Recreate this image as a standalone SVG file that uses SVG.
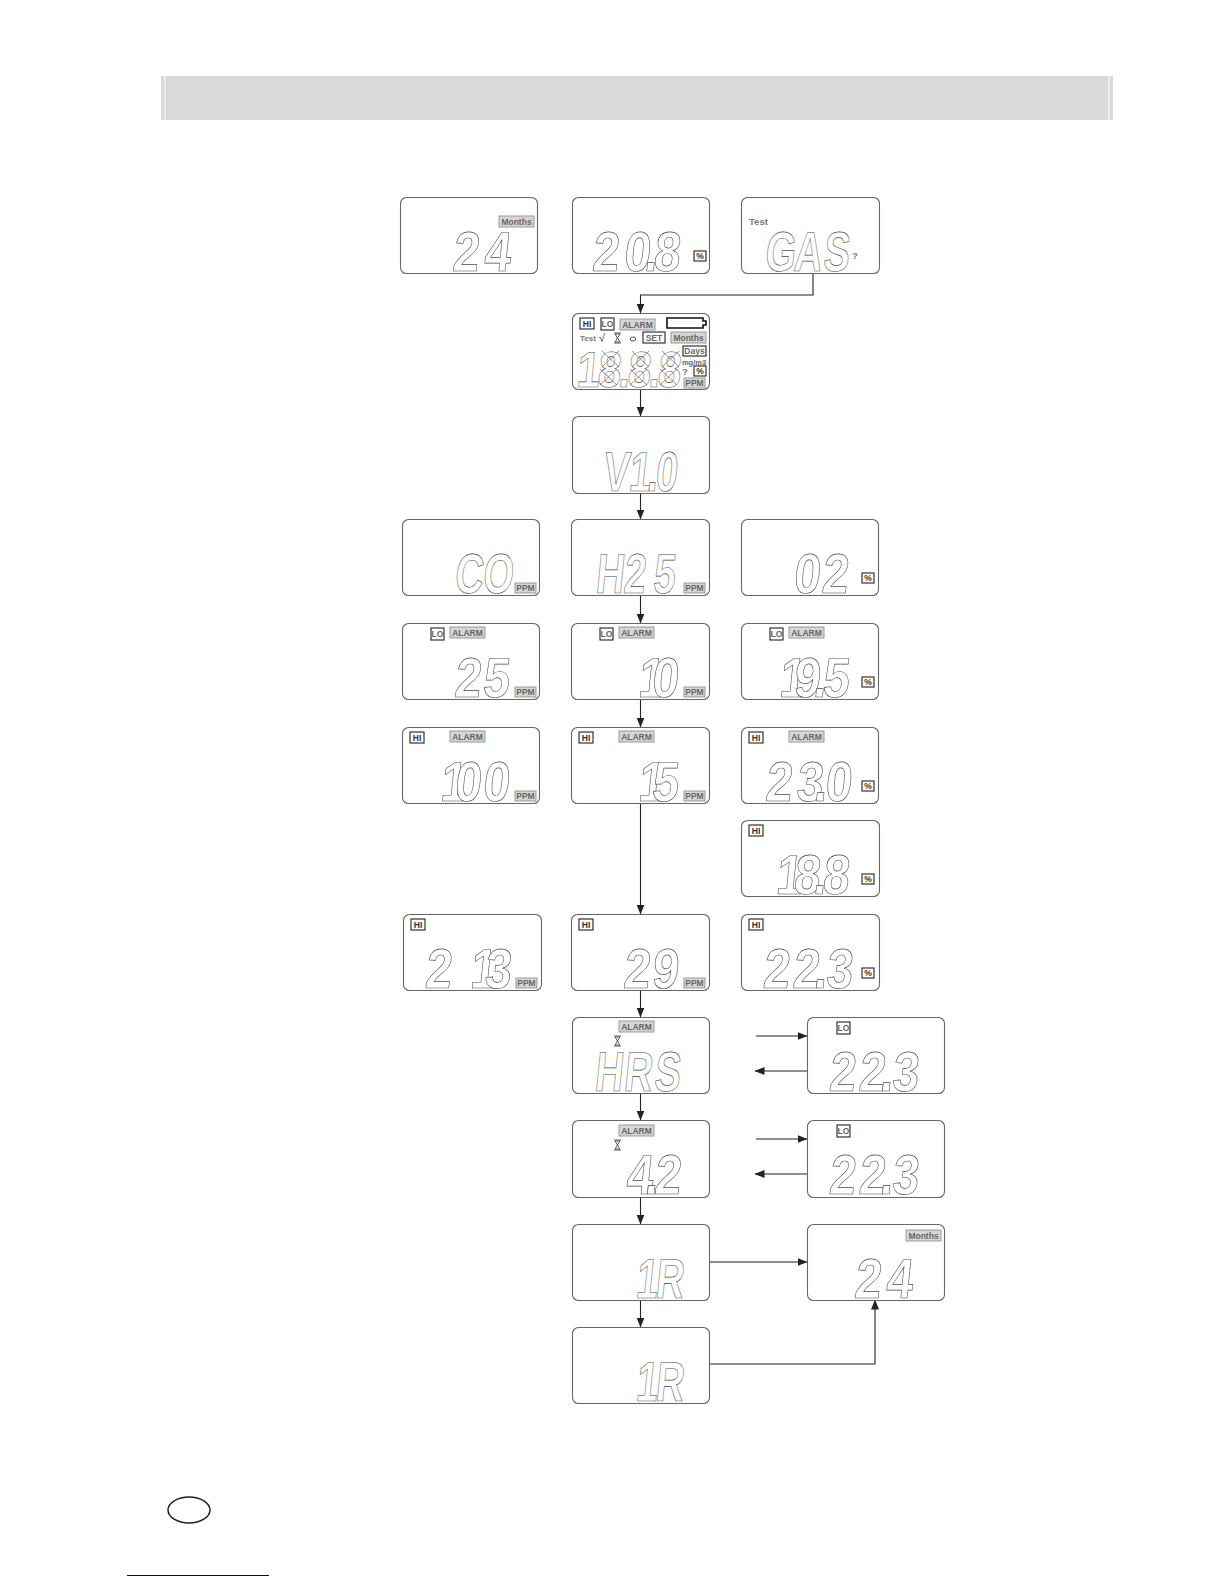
<svg xmlns="http://www.w3.org/2000/svg" xmlns:xlink="http://www.w3.org/1999/xlink" width="1224" height="1584" viewBox="0 0 1224 1584">
<style>
.p{fill:#fff;stroke:#666;stroke-width:1.1;transform:translate(.5px,.5px)}
.d{font-family:"Liberation Sans",sans-serif;font-weight:700;font-size:56px;fill:#fff;stroke:#4a4a4a;stroke-width:.65;text-rendering:geometricPrecision}
.c{fill:#d6d6d6;stroke:#999;stroke-width:1}
.b{fill:#fff;stroke:#222;stroke-width:1.1}
.t{font-family:"Liberation Sans",sans-serif;font-weight:700;font-size:8.5px;fill:#666;text-anchor:middle}
.l{font-family:"Liberation Sans",sans-serif;font-weight:700;font-size:9.5px;fill:#777}
.ah{fill:#222}
.g{fill:#fff;stroke:#555;stroke-width:1}
.s{stroke:#666;stroke-width:.7}
</style>
<defs>
<marker id="a" markerWidth="10" markerHeight="10" refX="9.5" refY="4" orient="auto" markerUnits="userSpaceOnUse"><path d="M0,0L10,4L0,8Z" class="ah"/></marker>
<g id="ppm"><rect x="0" y="0" width="21" height="10" class="c"/><text x="10.5" y="8" class="t">PPM</text></g>
<g id="pct"><rect x="0" y="0" width="12" height="10" class="b"/><text x="6" y="8" class="t" style="fill:#333">%</text></g>
<g id="lo"><rect x="0" y="0" width="13" height="12" class="b"/><text x="6.5" y="9" class="t">LO</text></g>
<g id="hi"><rect x="0" y="0" width="14" height="11" class="b"/><text x="7" y="9" class="t" style="fill:#333">HI</text></g>
<g id="alarm"><rect x="0" y="0" width="35" height="11" class="c"/><text x="17.5" y="9" class="t">ALARM</text></g>
<g id="months"><rect x="0" y="0" width="35" height="11" class="c"/><text x="17.5" y="9" class="t">Months</text></g>
<path id="hg" d="M0,0H7M0,10H7M1,1L6,9H1L6,1Z" fill="#fff" stroke="#555" stroke-width="1"/>
</defs>
<rect id="bar" x="161" y="76" width="952" height="44" fill="#d9d9d9"/>
<rect x="164" y="76" width="2" height="44" fill="#ececec"/>
<rect x="1108" y="76" width="2" height="44" fill="#ececec"/>

<g id="connectors" fill="none" stroke="#222" stroke-width="1.1">
<path d="M813,273V295H640.5V313" marker-end="url(#a)"/>
<path d="M640.5,389V416" marker-end="url(#a)"/>
<path d="M640.5,493V519" marker-end="url(#a)"/>
<path d="M640.5,595V623" marker-end="url(#a)"/>
<path d="M640.5,699V727" marker-end="url(#a)"/>
<path d="M640.5,803V914" marker-end="url(#a)"/>
<path d="M640.5,990V1017" marker-end="url(#a)"/>
<path d="M640.5,1093V1120" marker-end="url(#a)"/>
<path d="M640.5,1197V1224" marker-end="url(#a)"/>
<path d="M640.5,1300V1327" marker-end="url(#a)"/>
<path d="M756,1036H807" marker-end="url(#a)"/>
<path d="M807,1071H755" marker-end="url(#a)"/>
<path d="M756,1139H807" marker-end="url(#a)"/>
<path d="M807,1174H755" marker-end="url(#a)"/>
<path d="M709,1262H807" marker-end="url(#a)"/>
<path d="M709,1364H875V1300" marker-end="url(#a)"/>
</g>

<g id="n-months24" transform="translate(400,197)"><rect width="137" height="76" rx="6" class="p"/><use xlink:href="#months" x="99" y="19"/><text class="d" transform="matrix(.85 0 -.1 1 0 74)" x="61 98">24</text></g>
<g id="n-208" transform="translate(572,197)"><rect width="137" height="76" rx="6" class="p"/><use xlink:href="#pct" x="122" y="54"/><text class="d" transform="matrix(.85 0 -.1 1 0 74)" x="23 60 84 95">20.8</text></g>
<g id="n-gas" transform="translate(741,197)"><rect width="138" height="76" rx="6" class="p"/><text class="l" x="8" y="28">Test</text><text class="l" x="111" y="62">?</text><text class="d" transform="matrix(.7 0 -.1 1 0 74)" x="33 74 116">GAS</text></g>

<g id="n-full" transform="translate(572,313)"><rect width="137" height="76" rx="6" class="p"/>
<use xlink:href="#hi" x="8" y="5"/><use xlink:href="#lo" x="29" y="5"/><use xlink:href="#alarm" x="48" y="6"/>
<path d="M95,5H131V8H134V12H131V15H95Z" fill="#fff" stroke="#111" stroke-width="1.6"/>
<text class="l" x="8" y="28" style="font-size:8px">Test</text><text class="l" x="27" y="29" style="font-size:11px">√</text><use xlink:href="#hg" x="42" y="20"/><ellipse cx="61" cy="26" rx="2.8" ry="2" class="g"/>
<rect x="71" y="19" width="22" height="11" class="b"/><text x="82" y="28" class="t">SET</text>
<use xlink:href="#months" x="99" y="19"/>
<rect x="111" y="33" width="23" height="10" class="b"/><text x="122.500" y="41" class="t">Days</text>
<text x="122" y="52" class="t" style="font-size:7.500px">mg/m3</text><text class="l" x="110" y="62">?</text><use xlink:href="#pct" x="122" y="53"/><use xlink:href="#ppm" x="112" y="65"/>
<text class="d" transform="matrix(.75 0 -.08 .9 0 74)" x="5 33 61 73 101 113" style="stroke-width:.6">18.8.8</text>
<path class="s" fill="none" d="M30,38L47,54M47,38L30,54M28,56L45,72M45,56L28,72M60,38L77,54M77,38L60,54M58,56L75,72M75,56L58,72M90,38L107,54M107,38L90,54M88,56L105,72M105,56L88,72"/>
</g>

<g id="n-v10" transform="translate(572,416)"><rect width="137" height="77" rx="6" class="p"/><text class="d" transform="matrix(.7 0 -.1 1 0 75)" x="43 80 106 118">V1.0</text></g>

<g id="n-co" transform="translate(402,519)"><rect width="137" height="76" rx="6" class="p"/><use xlink:href="#ppm" x="113" y="64"/><text class="d" transform="matrix(.7 0 -.1 1 0 74)" x="74 114">CO</text></g>
<g id="n-h25" transform="translate(571,519)"><rect width="138" height="76" rx="6" class="p"/><use xlink:href="#ppm" x="113" y="64"/><text class="d" transform="matrix(.7 0 -.1 1 0 74)" x="34 74 116">H25</text></g>
<g id="n-02" transform="translate(741,519)"><rect width="137" height="76" rx="6" class="p"/><use xlink:href="#pct" x="121" y="54"/><text class="d" transform="matrix(.85 0 -.1 1 0 74)" x="61 94">02</text></g>

<g id="n-lo25" transform="translate(402,623)"><rect width="137" height="76" rx="6" class="p"/><use xlink:href="#lo" x="29" y="5"/><use xlink:href="#alarm" x="48" y="4"/><use xlink:href="#ppm" x="113" y="64"/><text class="d" transform="matrix(.85 0 -.1 1 0 74)" x="61 94">25</text></g>
<g id="n-lo10" transform="translate(571,623)"><rect width="138" height="76" rx="6" class="p"/><use xlink:href="#lo" x="29" y="5"/><use xlink:href="#alarm" x="48" y="4"/><use xlink:href="#ppm" x="113" y="64"/><text class="d" transform="matrix(.85 0 -.1 1 0 74)" x="78 94">10</text></g>
<g id="n-lo195" transform="translate(741,623)"><rect width="137" height="76" rx="6" class="p"/><use xlink:href="#lo" x="29" y="5"/><use xlink:href="#alarm" x="48" y="4"/><use xlink:href="#pct" x="121" y="54"/><text class="d" transform="matrix(.85 0 -.1 1 0 74)" x="44 61 84 95">19.5</text></g>

<g id="n-hi100" transform="translate(402,727)"><rect width="137" height="76" rx="6" class="p"/><use xlink:href="#hi" x="8" y="5"/><use xlink:href="#alarm" x="48" y="4"/><use xlink:href="#ppm" x="113" y="64"/><text class="d" transform="matrix(.85 0 -.1 1 0 74)" x="44 61 94">100</text></g>
<g id="n-hi15" transform="translate(571,727)"><rect width="138" height="76" rx="6" class="p"/><use xlink:href="#hi" x="8" y="5"/><use xlink:href="#alarm" x="48" y="4"/><use xlink:href="#ppm" x="113" y="64"/><text class="d" transform="matrix(.85 0 -.1 1 0 74)" x="78 94">15</text></g>
<g id="n-hi230" transform="translate(741,727)"><rect width="137" height="76" rx="6" class="p"/><use xlink:href="#hi" x="8" y="5"/><use xlink:href="#alarm" x="48" y="4"/><use xlink:href="#pct" x="121" y="54"/><text class="d" transform="matrix(.85 0 -.1 1 0 74)" x="28 64 85 98">23.0</text></g>

<g id="n-hi188" transform="translate(741,820)"><rect width="138" height="76" rx="6" class="p"/><use xlink:href="#hi" x="8" y="5"/><use xlink:href="#pct" x="121" y="54"/><text class="d" transform="matrix(.85 0 -.1 1 0 74)" x="40 61 84 95">18.8</text></g>

<g id="n-hi213" transform="translate(403,914)"><rect width="138" height="76" rx="6" class="p"/><use xlink:href="#hi" x="8" y="5"/><use xlink:href="#ppm" x="113" y="64"/><text class="d" transform="matrix(.85 0 -.1 1 0 74)" x="25 78 95">213</text></g>
<g id="n-hi29" transform="translate(571,914)"><rect width="138" height="76" rx="6" class="p"/><use xlink:href="#hi" x="8" y="5"/><use xlink:href="#ppm" x="113" y="64"/><text class="d" transform="matrix(.85 0 -.1 1 0 74)" x="61 94">29</text></g>
<g id="n-hi223" transform="translate(741,914)"><rect width="138" height="76" rx="6" class="p"/><use xlink:href="#hi" x="8" y="5"/><use xlink:href="#pct" x="121" y="54"/><text class="d" transform="matrix(.85 0 -.1 1 0 74)" x="25 60 85 99">22.3</text></g>

<g id="n-hrs" transform="translate(572,1017)"><rect width="137" height="76" rx="6" class="p"/><use xlink:href="#alarm" x="47" y="4"/><use xlink:href="#hg" x="42" y="19"/><text class="d" transform="matrix(.7 0 -.1 1 0 74)" x="31 73 116">HRS</text></g>
<g id="n-lo223a" transform="translate(807,1017)"><rect width="137" height="76" rx="6" class="p"/><use xlink:href="#lo" x="30" y="5"/><text class="d" transform="matrix(.85 0 -.1 1 0 74)" x="25 60 85 99">22.3</text></g>
<g id="n-42" transform="translate(572,1120)"><rect width="137" height="77" rx="6" class="p"/><use xlink:href="#alarm" x="47" y="5"/><use xlink:href="#hg" x="42" y="20"/><text class="d" transform="matrix(.85 0 -.1 1 0 74)" x="63 85 96">4.2</text></g>
<g id="n-lo223b" transform="translate(807,1120)"><rect width="137" height="77" rx="6" class="p"/><use xlink:href="#lo" x="30" y="5"/><text class="d" transform="matrix(.85 0 -.1 1 0 74)" x="25 60 85 99">22.3</text></g>
<g id="n-1ra" transform="translate(572,1224)"><rect width="137" height="76" rx="6" class="p"/><text class="d" transform="matrix(.7 0 -.1 1 0 74)" x="90 118">1R</text></g>
<g id="n-months24b" transform="translate(807,1224)"><rect width="137" height="76" rx="6" class="p"/><use xlink:href="#months" x="99" y="6"/><text class="d" transform="matrix(.85 0 -.1 1 0 74)" x="55 92">24</text></g>
<g id="n-1rb" transform="translate(572,1327)"><rect width="137" height="76" rx="6" class="p"/><text class="d" transform="matrix(.7 0 -.1 1 0 74)" x="90 118">1R</text></g>

<ellipse id="oval" cx="189" cy="1510" rx="21" ry="13" fill="#fff" stroke="#222" stroke-width="1.5"/>
<line id="link" x1="127" y1="1575.500" x2="269" y2="1575.500" stroke="#000080" stroke-width="1"/>
</svg>
